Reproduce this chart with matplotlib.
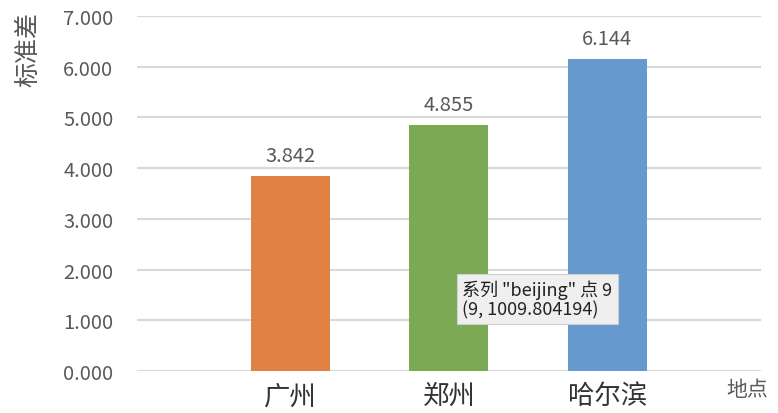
import matplotlib
matplotlib.use('Agg')
import matplotlib.pyplot as plt

plt.rcParams['font.family'] = ['Noto Sans CJK SC', 'DejaVu Sans']

# data
cities = ['广州', '郑州', '哈尔滨']
std_values = [3.842, 4.855, 6.144]
bar_colors = ['#E08244', '#7CAA54', '#6699CE']
y_ticks = [0, 1, 2, 3, 4, 5, 6, 7]
tooltip_lines = ['系列 "beijing" 点 9', '(9, 1009.804194)']

text_gray = '#595959'

fig = plt.figure(figsize=(7.78, 4.14), dpi=100)
ax = fig.add_axes([0.176, 0.1014, 0.802, 0.8576])

xpos = [1, 2, 3]
bars = ax.bar(xpos, std_values, width=0.5, color=bar_colors, zorder=3)
for x, v in zip(xpos, std_values):
    ax.text(x, v + 0.2, f'{v:.3f}', ha='center', va='bottom',
            fontsize=14.5, color=text_gray)

ax.set_xlim(0.03, 3.97)
ax.set_ylim(0, 7)
ax.set_yticks(y_ticks)
ax.set_yticklabels([f'{t:.3f}' for t in y_ticks], fontsize=14.5, color=text_gray)
ax.set_xticks(xpos)
ax.set_xticklabels(cities, fontsize=19, color='#333333')
ax.tick_params(axis='both', length=0)
ax.tick_params(axis='y', pad=17)
ax.tick_params(axis='x', pad=8)

ax.grid(axis='y', color='#D9D9D9', linewidth=1.5, zorder=0)
for s in ax.spines.values():
    s.set_visible(False)

fig.text(0.036, 0.97, '标准差', rotation=90, ha='center', va='top',
         fontsize=18, color=text_gray)
fig.text(0.961, 0.058, '地点', ha='center', va='center',
         fontsize=15, color=text_gray)

fig.text(462 / 778, 1 - 300 / 414, '\n'.join(tooltip_lines), ha='left', va='center',
         fontsize=13, color='#222222', linespacing=1.15,
         bbox=dict(boxstyle='square,pad=0.3', facecolor='#EFEFEF',
                   edgecolor='#CFCFCF', linewidth=0.8))

fig.savefig('out.png', dpi=100)
